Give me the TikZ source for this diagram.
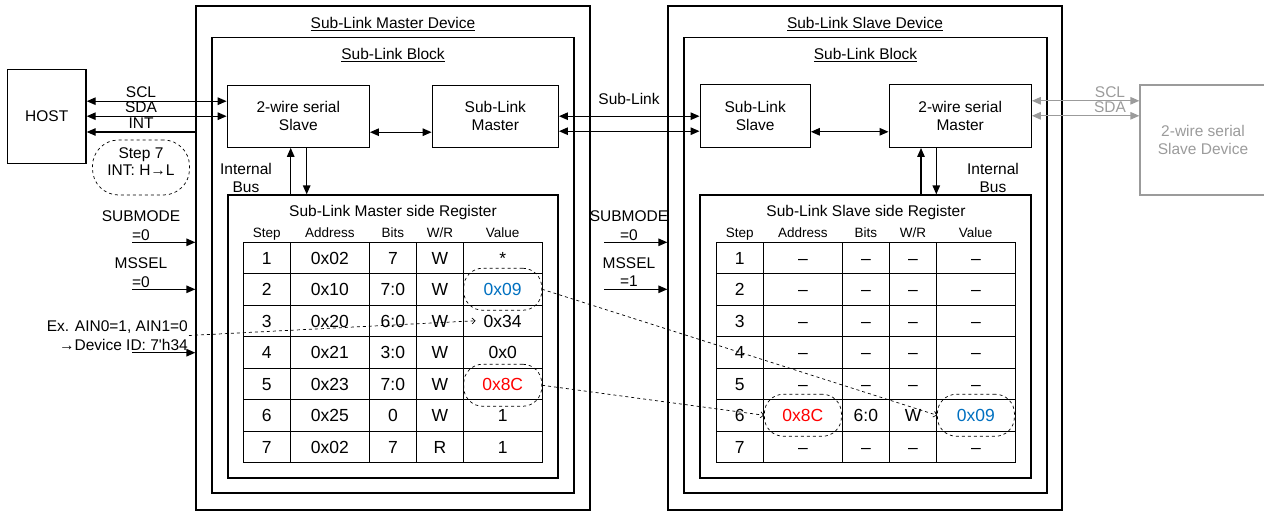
\documentclass[tikz,border=0pt]{standalone}
\usepackage{fontspec}
\setmainfont{Liberation Sans}
\usetikzlibrary{arrows.meta,positioning}

\definecolor{valblue}{RGB}{0,112,192}
\definecolor{valred}{RGB}{255,0,0}
\definecolor{fargray}{RGB}{155,155,155}

\tikzset{
  box/.style={draw, line width=1.3pt, inner sep=0pt},
  blk/.style={box, align=center},
  tab/.style={line width=0.9pt},
  hdr/.style={font=\fontsize{13.5}{16}\selectfont, text height=9.7pt, text depth=0pt},
  val/.style={font=\fontsize{17.5}{20}\selectfont, text height=12.5pt, text depth=0pt},
  arr/.style={line width=1.3pt, -{Triangle[length=9pt,width=7.5pt]}},
  dbl/.style={line width=1.3pt, {Triangle[length=9pt,width=7.5pt]}-{Triangle[length=9pt,width=7.5pt]}},
  oval/.style={draw, dashed, line width=0.7pt, rounded corners=19pt, minimum width=78pt, minimum height=42pt},
  hint/.style={dashed, line width=0.7pt, -{Straight Barb[length=3pt,width=6pt]}},
}

\begin{document}
\begin{tikzpicture}[x=1pt, y=-1pt, every node/.style={font=\fontsize{15.5}{18.5}\selectfont, inner sep=1pt}]
    \useasboundingbox (0,0) rectangle (1264,511);

    % host
    \node[box, minimum width=78.7pt, minimum height=94pt] (host) at (46.7,116.3) {HOST};

    % master device
    \node[box, minimum width=394pt, minimum height=504pt] (mdev) at (393,258) {};
    \node[box, minimum width=362pt, minimum height=455.5pt] (mblk) at (393,265.25) {};
    \node[box, minimum width=330pt, minimum height=283pt] (mreg) at (393,336.5) {};
    \node (mdevt) at (393,24) {\underline{Sub-Link Master Device}};
    \node (mblkt) at (393,55) {\underline{Sub-Link Block}};
    \node (mregt) at (393,212) {Sub-Link Master side Register};
    \node[blk, minimum width=142pt, minimum height=62pt] (twslave) at (298.3,116.2) {2-wire serial\\Slave};
    \node[blk, minimum width=126pt, minimum height=62pt] (slmaster) at (495.3,116.2) {Sub-Link\\Master};

    % slave device
    \node[box, minimum width=394pt, minimum height=504pt] (sdev) at (865,258) {};
    \node[box, minimum width=363pt, minimum height=455.5pt] (sblk) at (865.5,265.25) {};
    \node[box, minimum width=331pt, minimum height=283pt] (sreg) at (865.5,336.5) {};
    \node (sdevt) at (865,24) {\underline{Sub-Link Slave Device}};
    \node (sblkt) at (865.5,55) {\underline{Sub-Link Block}};
    \node (sregt) at (866,212) {Sub-Link Slave side Register};
    \node[blk, minimum width=110pt, minimum height=63pt] (slslave) at (755.2,115.8) {Sub-Link\\Slave};
    \node[blk, minimum width=142pt, minimum height=63pt] (twmaster) at (960.2,115.8) {2-wire serial\\Master};

    % external 2-wire slave
    \node[box, draw=fargray, text=fargray, align=center, minimum width=126pt, minimum height=110pt] (farslave) at (1203,140) {2-wire serial\\Slave Device};

    % host bus
    \coordinate (scl) at ([yshift=15pt]twslave.west);
    \coordinate (sda) at (twslave.west);
    \coordinate (intp) at (mdev.west |- 0,132);
    \draw[dbl] (scl -| host.east) -- (scl);
    \draw[dbl] (sda -| host.east) -- (sda);
    \draw[arr] (intp) -- (intp -| host.east);
    \node (sclt) at (141,91.7) {SCL};
    \node (sdat) at (141,107) {SDA};
    \node (intt) at (141,122.7) {INT};

    \node[draw, dashed, line width=0.7pt, rounded corners=26pt, minimum width=97pt, minimum height=55pt] (stepb) at (141,167.5) {};
    \node[align=center, font=\fontsize{15.5}{17}\selectfont] (stept) at (141,161.5) {Step 7\\INT: H→L};

    % pin settings, master side
    \node[align=center] (msubt) at (141,225.5) {SUBMODE\\=0};
    \coordinate (msub) at (mdev.west |- 0,242.3);
    \draw[arr] ([xshift=-63pt]msub) -- (msub);
    \node[align=center] (mselt) at (141,272.5) {MSSEL\\=0};
    \coordinate (msel) at (mdev.west |- 0,289.3);
    \draw[arr] ([xshift=-63pt]msel) -- (msel);
    \node[align=right, anchor=east] (exnote) at (189,335.5) {Ex. AIN0=1, AIN1=0\\→Device ID: 7\textquotesingle h34};
    \coordinate (mid) at (mdev.west |- 0,352.7);
    \draw[arr] ([xshift=-63pt]mid) -- (mid);

    % pin settings, slave side
    \node[align=center] (ssubt) at (629,225.5) {SUBMODE\\=0};
    \coordinate (ssub) at (sdev.west |- 0,242.3);
    \draw[arr] ([xshift=-63pt]ssub) -- (ssub);
    \node[align=center] (sselt) at (629,272.3) {MSSEL\\=1};
    \coordinate (ssel) at (sdev.west |- 0,289.3);
    \draw[arr] ([xshift=-63pt]ssel) -- (ssel);

    % block links
    \draw[dbl] ([yshift=-16pt]twslave.east) -- ([yshift=-16pt]slmaster.west);
    \coordinate (sl1) at (slmaster.east);
    \coordinate (sl2) at ([yshift=-15pt]slmaster.east);
    \draw[dbl] (sl1) -- (sl1 -| slslave.west);
    \draw[dbl] (sl2) -- (sl2 -| slslave.west);
    \node (slt) at (629,99.3) {Sub-Link};
    \draw[dbl] ([yshift=-16pt]slslave.east) -- ([yshift=-16pt]twmaster.west);

    \coordinate (gscl) at ([yshift=15pt]twmaster.east);
    \coordinate (gsda) at (twmaster.east);
    \draw[dbl, color=fargray] (gscl) -- (gscl -| farslave.west);
    \draw[dbl, color=fargray] (gsda) -- (gsda -| farslave.west);
    \node[text=fargray] (gsclt) at (1110,91.7) {SCL};
    \node[text=fargray] (gsdat) at (1110,107.3) {SDA};

    % internal bus
    \coordinate (mbu) at ([xshift=-7.6pt]twslave.south);
    \coordinate (mbd) at ([xshift=8.4pt]twslave.south);
    \draw[arr] (mbu |- mreg.north) -- (mbu);
    \draw[arr] (mbd) -- (mbd |- mreg.north);
    \node[align=center] (mbust) at (246,178) {Internal\\Bus};
    \coordinate (sbu) at ([xshift=-39.2pt]twmaster.south);
    \coordinate (sbd) at ([xshift=-23.9pt]twmaster.south);
    \draw[arr] (sbu |- sreg.north) -- (sbu);
    \draw[arr] (sbd) -- (sbd |- sreg.north);
    \node[align=center] (sbust) at (993,178) {Internal\\Bus};

    % register tables
    \foreach \ox/\p in {0/m, 473/s} {
        \draw[tab] (243+\ox,242) rectangle (542+\ox,462.5);
        \foreach \x in {290.4,369.4,416.4,463.7}
            \draw[tab] (\x+\ox,242) -- (\x+\ox,462.5);
        \foreach \r in {1,...,6}
            \draw[tab] (243+\ox,{242+31.5*\r}) -- (542+\ox,{242+31.5*\r});
        \foreach \cx/\h [count=\i] in {266.7/Step, 329.9/Address, 392.9/Bits, 440/{W/R}, 502.7/Value}
            \node[hdr] (\p h\i) at (\cx+\ox,233) {\h};
    }
    \foreach \r/\ad/\bi/\wr/\va in {1/0x02/7/W/*, 2/0x10/7:0/W/\textcolor{valblue}{0x09},
        3/0x20/6:0/W/0x34, 4/0x21/3:0/W/0x0, 5/0x23/7:0/W/\textcolor{valred}{0x8C},
        6/0x25/0/W/1, 7/0x02/7/R/1} {
        \node[val] (m-\r-1) at (266.7,{226.25+31.5*\r}) {\r};
        \node[val] (m-\r-2) at (329.9,{226.25+31.5*\r}) {\ad};
        \node[val] (m-\r-3) at (392.9,{226.25+31.5*\r}) {\bi};
        \node[val] (m-\r-4) at (440,{226.25+31.5*\r}) {\wr};
        \node[val] (m-\r-5) at (502.7,{226.25+31.5*\r}) {\va};
    }
    \foreach \r/\ad/\bi/\wr/\va in {1/--/--/--/--, 2/--/--/--/--, 3/--/--/--/--,
        4/--/--/--/--, 5/--/--/--/--,
        6/\textcolor{valred}{0x8C}/6:0/W/\textcolor{valblue}{0x09}, 7/--/--/--/--} {
        \node[val] (s-\r-1) at (739.7,{226.25+31.5*\r}) {\r};
        \node[val] (s-\r-2) at (802.9,{226.25+31.5*\r}) {\ad};
        \node[val] (s-\r-3) at (865.9,{226.25+31.5*\r}) {\bi};
        \node[val] (s-\r-4) at (913,{226.25+31.5*\r}) {\wr};
        \node[val] (s-\r-5) at (975.9,{226.25+31.5*\r}) {\va};
    }

    % copied values
    \node[oval] (mv2) at (m-2-5) {};
    \node[oval] (mv5) at ([yshift=-1.5pt]m-5-5) {};
    \node[oval, minimum width=77pt] (sv6a) at (s-6-2) {};
    \node[oval, minimum width=77pt] (sv6b) at (s-6-5) {};
    \draw[hint] (mv2.east) -- (sv6b.west);
    \draw[hint] (mv5.east) -- (sv6a.west);
    \draw[hint] (exnote.east) -- ([xshift=-7pt]m-3-5.west);
\end{tikzpicture}
\end{document}
